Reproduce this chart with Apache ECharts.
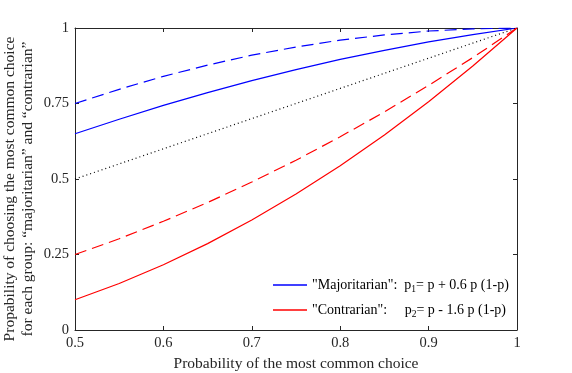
<!DOCTYPE html>
<html lang="en">
  <head>
    <meta charset="UTF-8" />
    <title>chart</title>
    <style>
      * { padding: 0; margin: 0; }
      html, body { width: 100%; height: 100%; background: #fff; }
      #main { width: 572px; height: 373px; }
    </style>
  </head>
  <body>
    <div id="main"></div>
    <script src="https://cdn.jsdelivr.net/npm/echarts@6/dist/echarts.min.js"></script>
    <script>
      // values
      var pValues = [0.5, 0.55, 0.6, 0.65, 0.7, 0.75, 0.8, 0.85, 0.9, 0.95, 1];
      var majSolid = [0.65, 0.698, 0.744, 0.786, 0.826, 0.862, 0.896, 0.926, 0.954, 0.978, 1];
      var majDashed = [0.75, 0.797, 0.84, 0.877, 0.91, 0.937, 0.96, 0.977, 0.99, 0.997, 1];
      var diagonal = [0.5, 0.55, 0.6, 0.65, 0.7, 0.75, 0.8, 0.85, 0.9, 0.95, 1];
      var conDashed = [0.25, 0.302, 0.36, 0.422, 0.49, 0.562, 0.64, 0.722, 0.81, 0.902, 1];
      var conSolid = [0.1, 0.154, 0.216, 0.286, 0.364, 0.45, 0.544, 0.646, 0.756, 0.874, 1];

      var font = 'Liberation Serif';
      var myChart = echarts.init(document.getElementById('main'));

      function pairs(ys) {
        return pValues.map(function (x, i) { return [x, ys[i]]; });
      }

      function lineSeries(name, ys, color, type) {
        return {
          name: name,
          type: 'line',
          data: pairs(ys),
          symbol: 'none',
          silent: true,
          color: color,
          itemStyle: { color: color },
          lineStyle: { color: color, width: 1.2, type: type }
        };
      }

      var axisCommon = {
        axisLine: { show: true, onZero: false, lineStyle: { color: '#262626', width: 1 } },
        axisTick: { show: true, inside: true, length: 4, lineStyle: { color: '#262626' } },
        splitLine: { show: false }
      };

      var option = {
        animation: false,
        textStyle: { fontFamily: font },
        grid: { left: 75, right: 55, top: 28, bottom: 43, outerBoundsMode: 'none', containLabel: false },
        xAxis: [
          Object.assign({
            type: 'value', min: 0.5, max: 1, interval: 0.1, position: 'bottom',
            name: 'Probability of the most common choice',
            nameLocation: 'middle', nameGap: 24,
            nameTextStyle: { fontFamily: font, fontSize: 15.5, color: '#262626' },
            axisLabel: { fontFamily: font, fontSize: 14.5, color: '#262626', margin: 6,
              formatter: function (v) { return v === 1 ? '1' : String(+v.toFixed(1)); } }
          }, axisCommon),
          Object.assign({
            type: 'value', min: 0.5, max: 1, interval: 0.1, position: 'top',
            axisLabel: { show: false }
          }, axisCommon)
        ],
        yAxis: [
          Object.assign({
            type: 'value', min: 0, max: 1, interval: 0.25, position: 'left',
            axisLabel: { fontFamily: font, fontSize: 14.5, color: '#262626', margin: 6,
              formatter: function (v) { return String(v); } }
          }, axisCommon),
          Object.assign({
            type: 'value', min: 0, max: 1, interval: 0.25, position: 'right',
            axisLabel: { show: false }
          }, axisCommon)
        ],
        legend: {
          orient: 'vertical',
          left: 273,
          top: 278,
          padding: 0,
          itemWidth: 34,
          itemHeight: 14,
          itemGap: 9,
          icon: 'path://M0,0 L34,0 L34,1.5 L0,1.5 Z',
          data: ['maj', 'con'],
          textStyle: {
            fontFamily: font, fontSize: 14, color: '#000',
            rich: {
              a: { fontFamily: font, fontSize: 14, color: '#000' },
              s: { fontFamily: font, fontSize: 9.5, color: '#000', verticalAlign: 'bottom', padding: [8, 0, 0, 0] }
            }
          },
          formatter: function (n) {
            if (n === 'maj') return '{a|"Majoritarian":  p}{s|1}{a|= p + 0.6 p (1-p)}';
            return '{a|"Contrarian":     p}{s|2}{a|= p - 1.6 p (1-p)}';
          }
        },
        graphic: [
          {
            type: 'text', x: 19, y: 189, rotation: Math.PI / 2,
            style: {
              text: 'Propability of choosing the most common choice\nfor each group: \u201cmajoritarian\u201d and \u201ccontrarian\u201d',
              fontFamily: font, fontSize: 15.5, fill: '#262626', align: 'center', verticalAlign: 'middle', lineHeight: 18
            }
          }
        ],
        series: [
          lineSeries('majd', majDashed, '#0000ff', [12, 6]),
          lineSeries('maj', majSolid, '#0000ff', 'solid'),
          lineSeries('diag', diagonal, '#000000', [1, 3]),
          lineSeries('cond', conDashed, '#ff0000', [12, 6]),
          lineSeries('con', conSolid, '#ff0000', 'solid')
        ]
      };
      myChart.setOption(option);
    </script>
  </body>
</html>
